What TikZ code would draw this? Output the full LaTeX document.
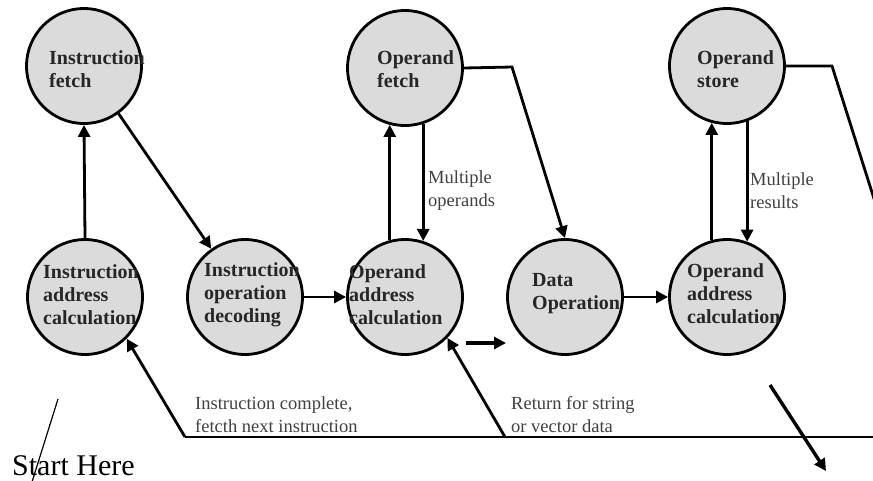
\documentclass[tikz,border=0pt]{standalone}
\usepackage{fontspec}
\setmainfont{Liberation Serif}
\usetikzlibrary{arrows.meta,calc}
\begin{document}
\begin{tikzpicture}[x=1pt,y=-1pt,
  stage/.style={circle,draw=black,line width=2.8pt,fill=black!14,minimum size=115pt,inner sep=0pt},
  stxt/.style={anchor=west,align=left,inner sep=0pt,font=\fontsize{20}{23}\selectfont\bfseries,text=black!85},
  lbl/.style={anchor=west,align=left,inner sep=0pt,font=\fontsize{18.5}{23}\selectfont,text=black!75},
  conn/.style={line width=2.8pt,-{Triangle[length=12pt,width=12pt]}},
  plain/.style={line width=2.8pt}]
\useasboundingbox (0,0) rectangle (873,480);
\begin{scope}
\clip (0,0) rectangle (873,480);
% stages
\node[stage] (if)   at (84,66)  {};
\node[stage] (of)   at (405,68) {};
\node[stage] (os)   at (727,66) {};
\node[stage] (iac)  at (85,297) {};
\node[stage] (iod)  at (245,297) {};
\node[stage] (oac)  at (405,297) {};
\node[stage] (dop)  at (565,297) {};
\node[stage] (oac2) at (727,297) {};
% stage texts
\node[stxt] (tif)   at (49,69)  {Instruction\\fetch};
\node[stxt] (tof)   at (377,69) {Operand\\fetch};
\node[stxt] (tos)   at (697,69) {Operand\\store};
\node[stxt] (tiac)  at (43,295) {Instruction\\address\\calculation};
\node[stxt] (tiod)  at (204,295) {Instruction\\operation\\decoding};
\node[stxt] (toac)  at (349,295) {Operand\\address\\calculation};
\node[stxt] (tdop)  at (532,294) {Data\\Operation};
\node[stxt] (toac2) at (687,294) {Operand\\address\\calculation};
% connectors
\draw[conn] (iac.north) -- (if.south);
\draw[conn] (if.-54) -- (iod.125);
\draw[conn] (iod.east) -- (oac.west);
\draw[conn] (oac.105) -- (of.255);
\draw[conn] (of.-72) -- (oac.72);
\coordinate (b1) at (512,67);
\draw[conn] (of.east) -- (b1) -- (dop.north);
\draw[conn] (dop.east) -- (oac2.west);
\draw[conn] (oac2.105) -- (os.255);
\draw[conn] (os.-70) -- (oac2.70);
\coordinate (b2) at (832,66);
\coordinate (e2) at (876,205);
\draw[plain] (os.east) -- (b2) -- (e2);
\coordinate (r0) at (876,437);
\coordinate (r1) at (505,437);
\coordinate (r2) at (185,437);
\draw[plain] (r0) -- (r2);
\draw[conn] (r2) -- (iac.-45);
\draw[conn] (r1) -- (oac.-44);
\coordinate (s1) at (466,343);
\coordinate (s2) at (506,343);
\draw[conn,line width=3.2pt] (s1) -- (s2);
\coordinate (d1) at (770,385);
\coordinate (d2) at (826,471);
\draw[conn,line width=3.4pt] (d1) -- (d2);
% labels
\node[lbl] (lmo) at (428,191) {Multiple\\operands};
\node[lbl] (lmr) at (750,191) {Multiple\\results};
\node[lbl] (lic) at (195,415) {Instruction complete,\\fetcth next instruction};
\node[lbl] (lrs) at (511,415) {Return for string\\or vector data};
% start here
\node[anchor=base west,inner sep=0pt,font=\fontsize{30}{32}\selectfont] (start) at (12,475) {Start Here};
\coordinate (h1) at (58,399);
\coordinate (h2) at (32,482);
\draw[line width=1.2pt] (h1) -- (h2);
\end{scope}
\end{tikzpicture}
\end{document}
